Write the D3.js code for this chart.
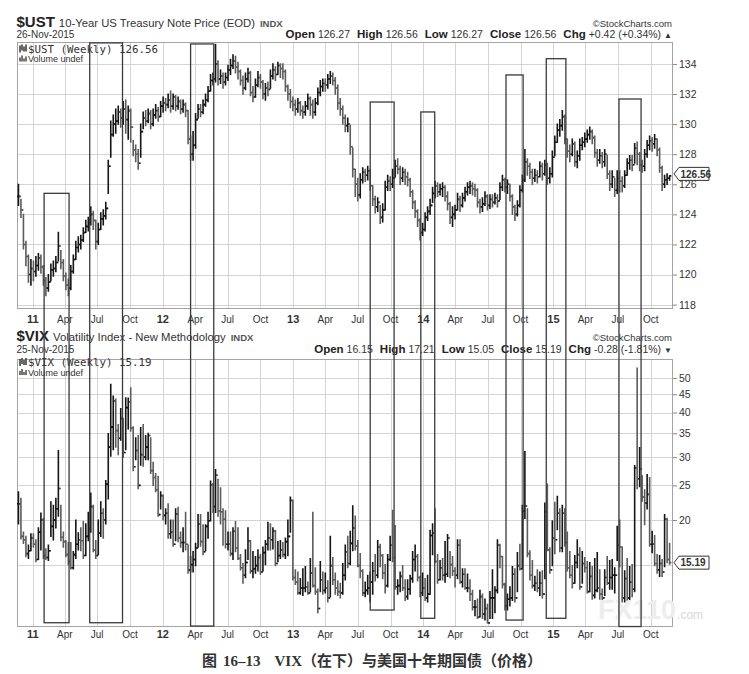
<!DOCTYPE html>
<html><head><meta charset="utf-8">
<script src="https://cdn.jsdelivr.net/npm/d3@7"></script>
<style>
body{margin:0;background:#fff}
svg{display:block}
text{fill:#333}
</style>
</head><body>
<svg id="chart" width="749" height="674" font-family="Liberation Sans, Arial, sans-serif"></svg>
<script>
// ---------- DATA (weekly bars, first week starting 2010-11-22) ----------
const firstWeek = "2010-11-22";

const ustClose = [
125.2,124.3,122.0,121.2,120.0,120.4,120.2,120.6,121.1,120.5,
119.6,119.1,119.5,120.3,120.4,120.8,121.9,120.8,119.9,119.3,
119.1,120.2,121.0,121.8,122.0,122.3,122.8,123.2,123.4,124.0,
123.6,122.2,123.0,123.7,123.9,124.4,127.2,129.3,130.0,130.2,
130.8,130.4,131.0,130.3,130.9,129.8,128.3,128.0,127.4,129.5,
130.4,130.2,130.7,130.0,130.6,130.9,130.5,131.2,131.4,131.3,
131.6,131.2,131.8,131.2,131.5,131.0,131.3,130.9,129.0,128.0,
128.6,130.3,131.0,130.8,131.3,131.6,132.2,132.9,133.0,134.0,
133.0,133.2,132.8,133.1,133.6,133.9,134.2,133.8,133.5,132.9,
132.4,133.0,133.4,132.1,131.8,132.6,133.1,132.8,132.0,132.4,
132.3,133.2,133.6,133.3,133.9,133.7,133.5,132.5,132.0,131.5,
131.3,131.0,131.4,130.9,130.8,131.2,131.7,131.3,130.8,131.4,
132.1,132.5,132.7,132.6,133.0,133.2,132.9,132.4,131.4,131.0,
130.4,129.9,130.0,128.5,127.0,126.0,125.3,126.3,126.8,126.6,
126.9,125.9,125.0,124.5,124.8,123.8,124.3,125.8,126.2,126.0,
126.4,127.2,127.0,126.4,126.8,126.5,126.3,125.5,124.8,124.2,
123.6,122.8,123.0,123.8,124.2,124.6,125.4,125.9,125.5,125.7,
125.8,125.2,124.7,123.8,124.0,124.3,125.0,124.6,125.1,125.5,
125.8,125.9,125.7,125.6,124.8,124.5,124.7,125.2,124.6,125.0,
124.8,125.1,124.9,125.8,126.3,125.8,126.0,125.2,124.5,124.0,
124.6,125.6,126.3,127.5,127.2,126.8,126.4,126.6,126.5,127.2,
126.7,127.3,126.4,126.7,127.8,128.8,129.6,129.9,130.5,129.0,
128.2,128.0,128.7,127.5,127.9,128.6,128.8,129.0,129.3,129.5,
129.1,128.1,127.6,127.9,127.5,128.0,126.7,126.0,126.5,125.6,
126.4,126.2,125.9,126.6,127.4,127.6,127.3,128.4,128.0,127.3,
127.2,128.0,128.6,128.9,128.7,129.0,128.3,127.1,126.0,126.3,
126.4,126.56];

const ustHigh = [
126.0,125.0,124.0,122.2,121.3,121.0,120.9,121.2,121.4,121.3,
120.6,119.8,120.0,120.7,120.9,121.2,122.8,121.6,121.0,120.1,
119.7,120.6,121.3,122.2,122.5,122.6,123.1,123.6,123.8,124.5,
124.2,123.6,123.4,124.1,124.3,124.8,127.6,130.2,130.6,131.0,
131.2,131.0,131.5,131.6,131.2,131.0,128.9,128.6,128.3,130.0,
130.8,130.9,131.0,130.9,131.0,131.3,131.1,131.5,131.8,131.7,
132.0,132.2,132.0,131.9,131.8,131.6,131.6,131.4,130.9,129.2,
129.5,130.7,131.3,131.3,131.6,132.0,132.5,133.3,133.4,135.3,
134.2,133.6,133.4,133.4,133.9,134.3,134.6,134.5,134.1,133.6,
133.2,133.4,133.7,133.5,132.5,133.0,133.5,133.3,132.9,132.7,
132.8,133.6,134.0,133.8,134.1,134.0,134.0,133.6,132.6,132.3,
131.8,131.6,131.7,131.5,131.2,131.5,132.0,131.8,131.6,131.7,
132.4,132.9,133.0,133.0,133.3,133.5,133.4,133.1,132.6,131.7,
131.2,130.6,130.4,129.9,128.4,127.0,126.4,126.7,127.1,127.0,
127.2,127.0,125.9,125.2,125.1,124.6,124.7,126.2,126.6,126.5,
127.0,127.6,127.7,127.2,127.1,127.0,126.8,126.4,125.6,124.9,
124.3,123.7,123.4,124.1,124.5,125.0,125.8,126.2,126.1,126.0,
126.1,125.9,125.5,124.8,124.5,124.6,125.4,125.2,125.4,125.8,
126.1,126.2,126.1,126.0,125.7,125.0,125.1,125.5,125.3,125.3,
125.3,125.4,125.3,126.1,126.6,126.4,126.3,126.0,125.3,124.6,
124.9,125.9,126.6,128.3,127.7,127.4,127.0,127.0,126.9,127.5,
127.4,127.6,127.4,127.1,128.2,129.2,130.0,130.3,130.9,130.6,
129.0,128.6,129.0,128.8,128.2,129.0,129.1,129.4,129.6,129.8,
129.6,129.2,128.3,128.3,128.1,128.3,127.9,126.9,126.9,126.4,
126.9,126.9,126.5,126.9,127.7,127.9,127.9,128.7,128.8,128.1,
127.6,128.3,128.9,129.2,129.1,129.3,129.0,128.4,127.2,126.6,
126.7,126.56];

const ustLow = [
124.6,123.8,121.7,120.6,119.5,119.3,119.6,119.9,120.3,120.1,
119.3,118.6,118.9,119.6,119.9,120.2,120.9,120.4,119.6,119.0,
118.6,119.0,120.1,121.0,121.5,121.7,122.2,122.8,122.9,123.3,
123.0,121.7,122.0,123.0,123.3,123.7,125.4,127.8,129.2,129.4,
130.0,129.8,130.0,129.4,129.0,128.8,127.9,127.5,127.0,127.8,
129.7,129.9,130.1,129.7,129.9,130.4,130.2,130.5,130.8,130.9,
131.1,130.8,131.0,130.9,131.0,130.7,130.8,130.5,128.7,127.6,
127.6,128.4,130.4,130.5,130.7,131.2,131.5,132.2,132.6,132.8,
132.6,132.7,132.4,132.6,132.9,133.3,133.7,133.4,133.0,132.6,
132.0,132.3,132.8,131.9,131.5,131.8,132.5,132.4,131.7,131.6,
131.9,132.4,133.0,132.9,133.3,133.1,133.0,132.2,131.6,131.1,
130.9,130.6,130.8,130.6,130.4,130.6,131.0,130.6,130.4,130.6,
131.3,131.9,132.2,132.2,132.4,132.7,132.6,132.0,131.0,130.6,
130.0,129.5,129.5,128.0,126.5,125.2,124.9,125.1,126.1,126.2,
126.3,125.6,124.6,124.1,124.2,123.4,123.5,124.3,125.6,125.6,
125.8,126.5,126.7,126.0,126.2,126.0,125.9,125.2,124.4,123.8,
123.2,122.3,122.6,122.9,123.6,124.0,124.8,125.1,125.2,125.3,
125.2,124.9,124.3,123.4,123.2,123.7,124.3,124.2,124.5,124.9,
125.3,125.4,125.3,125.2,124.5,124.1,124.2,124.6,124.3,124.4,
124.5,124.7,124.5,125.0,125.6,125.5,125.4,124.9,124.0,123.6,
123.9,124.5,125.5,126.2,126.6,126.4,126.0,126.2,126.1,126.5,
126.3,126.6,126.0,126.1,126.5,127.9,128.8,129.2,129.6,128.7,
127.8,127.5,127.9,127.2,127.1,127.6,128.3,128.5,128.8,129.0,
128.7,127.8,127.2,127.4,127.1,127.2,126.4,125.6,125.8,125.2,
125.4,125.5,125.5,125.8,126.6,127.0,126.9,127.4,127.3,126.9,
126.8,126.9,127.8,128.3,128.2,128.4,127.9,126.8,125.6,125.8,
126.0,126.27];

const vixClose = [
22.2,18.0,17.6,16.1,16.4,17.8,17.1,15.5,18.5,20.0,
15.9,15.7,16.4,19.2,20.0,21.5,24.5,17.9,17.4,16.0,
15.3,14.7,16.0,17.1,17.6,17.5,15.9,18.0,18.9,21.8,
16.5,15.9,18.4,20.9,20.0,25.2,32.0,36.4,43.1,35.6,
33.9,38.5,30.9,41.3,42.9,36.2,28.2,31.3,25.0,30.5,
30.0,32.0,34.5,27.5,26.3,24.3,20.7,23.4,20.6,20.9,
18.3,18.5,17.1,20.8,17.8,17.3,17.3,17.1,14.5,15.0,
15.5,16.7,19.5,17.4,16.3,19.2,19.9,25.1,21.8,26.7,
21.2,21.1,20.1,17.1,17.1,16.1,18.6,16.7,15.6,14.7,
14.0,15.2,17.5,14.4,14.6,14.9,15.7,14.3,16.2,17.1,
17.8,17.6,18.6,15.1,15.9,16.5,16.0,17.4,18.0,22.7,
13.8,13.4,12.5,12.9,12.9,13.0,12.5,14.2,13.1,12.6,
11.3,13.6,12.7,12.9,12.1,14.9,13.6,12.9,12.6,12.5,
14.0,16.3,15.1,17.2,19.0,16.9,14.9,14.4,12.5,12.7,
12.9,13.4,14.4,14.0,16.8,15.9,14.2,13.1,15.5,17.0,
15.7,13.0,13.1,13.9,12.9,12.2,12.8,13.7,15.5,15.8,
13.8,12.5,12.9,12.1,12.4,18.1,18.4,15.3,13.6,14.7,
14.0,14.1,17.8,15.0,14.4,14.0,17.0,13.4,14.1,12.9,
12.9,12.4,11.4,11.4,10.7,12.2,10.9,11.3,10.3,12.1,
12.1,12.7,17.0,15.8,13.2,11.5,12.0,12.1,14.1,12.1,
14.9,14.6,21.2,21.9,16.1,14.0,13.1,13.3,12.9,13.3,
12.4,21.1,16.5,14.5,17.8,17.6,20.9,16.7,20.9,17.3,
14.7,14.0,13.3,15.2,16.0,13.0,15.1,14.7,12.6,13.9,
12.3,12.7,12.9,12.4,12.1,13.8,13.3,13.8,14.0,14.0,
17.0,16.8,12.1,13.7,12.1,13.4,12.8,28.0,26.1,27.8,
23.2,22.3,23.6,17.1,17.1,15.1,14.5,15.1,14.3,20.1,
15.5,15.19];

const vixHigh = [
24.0,23.0,18.5,18.0,17.0,18.3,18.3,17.6,19.0,20.9,
20.2,16.6,17.0,22.5,22.0,23.0,31.3,22.0,18.5,17.5,
17.3,17.3,16.3,20.0,18.4,19.0,19.8,19.5,21.0,23.8,
22.0,17.5,20.0,22.5,21.5,25.8,34.9,48.0,44.5,43.6,
37.0,41.0,38.5,44.0,43.9,46.9,36.5,34.0,34.5,36.3,
37.0,34.5,35.0,34.0,29.0,27.0,26.5,24.0,23.5,21.5,
22.2,20.0,20.0,21.5,21.7,18.5,19.0,21.0,17.0,15.8,
16.3,17.2,20.7,20.7,19.4,19.4,21.0,25.7,25.3,27.7,
26.0,24.6,21.5,21.2,18.5,18.5,19.0,19.8,19.0,16.0,
15.1,16.5,19.0,17.5,16.3,15.8,16.5,16.0,16.8,17.5,
19.7,19.5,19.0,18.7,17.4,17.5,17.3,17.8,20.0,23.2,
22.7,14.5,14.3,13.7,14.6,14.8,13.4,15.6,21.0,14.7,
12.8,15.3,14.3,14.2,13.5,18.0,15.7,14.2,13.5,13.3,
15.1,17.0,18.0,18.6,21.9,20.5,17.5,16.1,14.5,13.4,
14.0,14.3,15.2,16.0,17.5,17.1,16.0,15.0,16.0,18.0,
21.3,19.3,13.6,14.3,14.9,13.6,13.6,14.0,16.3,17.0,
16.0,13.9,14.2,13.7,14.0,18.7,19.5,21.5,16.0,15.4,
15.6,17.4,18.2,16.3,15.8,14.7,17.6,17.6,14.6,14.6,
14.1,13.6,12.7,11.9,12.0,12.7,12.4,12.0,11.6,12.6,
14.5,13.0,17.6,17.1,15.8,13.3,12.4,13.0,14.8,14.6,
16.2,17.1,22.0,31.1,21.5,16.4,15.4,13.9,14.5,14.3,
14.4,22.3,25.2,16.7,19.9,22.4,23.3,21.5,22.0,21.5,
18.5,16.3,14.9,15.9,17.6,16.7,16.3,15.7,15.3,15.2,
14.8,15.6,16.2,14.5,12.8,14.5,15.8,15.4,15.5,14.7,
19.2,20.0,16.8,14.4,15.6,14.8,15.0,28.4,53.3,31.9,
26.6,24.3,26.8,26.3,18.6,18.1,16.0,15.9,15.5,20.7,
20.2,17.21];

const vixLow = [
19.5,17.7,17.2,15.8,15.6,16.4,16.8,15.3,15.5,16.5,
15.6,15.5,15.4,18.0,17.6,19.0,20.5,17.5,16.8,15.8,
15.0,14.6,14.6,15.6,16.5,16.4,15.6,15.9,17.5,18.5,
16.3,15.6,16.0,18.0,17.8,19.5,22.9,30.2,31.5,32.0,
30.5,33.5,30.0,31.5,36.0,35.5,27.5,29.5,24.5,28.5,
28.3,29.5,29.5,27.0,25.0,24.0,20.5,21.5,20.0,19.5,
17.8,17.8,16.9,17.5,17.4,16.8,16.3,16.5,14.2,14.3,
14.3,14.9,16.8,16.9,16.0,16.4,17.8,19.9,21.0,21.0,
20.5,19.5,17.0,16.7,16.5,15.9,15.5,16.3,15.5,14.5,
13.3,13.8,15.5,14.2,13.8,14.2,14.4,14.1,14.4,15.0,
16.5,16.5,16.6,14.9,15.3,15.6,15.8,15.6,15.9,18.5,
13.6,13.2,12.4,12.4,12.3,12.6,12.4,12.6,13.0,12.4,
11.0,12.6,12.4,12.5,11.8,12.2,13.2,12.4,12.3,12.1,
12.4,13.6,14.7,15.0,16.4,16.5,14.8,13.8,12.3,12.2,
12.4,11.8,12.4,13.5,13.8,14.8,13.7,12.5,13.0,15.4,
15.3,12.8,12.4,12.6,12.7,11.9,12.0,12.4,13.4,14.4,
13.5,12.2,12.3,11.9,11.8,12.4,16.0,15.2,13.3,13.6,
13.6,13.4,13.9,13.8,14.0,13.0,13.7,13.3,13.0,12.8,
12.6,11.9,11.2,10.8,10.6,10.7,10.6,10.5,10.3,10.6,
10.6,11.0,12.5,14.7,12.9,11.2,11.2,11.5,11.9,11.8,
12.6,14.5,14.6,20.2,15.8,13.6,12.9,12.7,12.6,12.3,
12.1,13.7,16.4,14.2,14.9,16.1,18.8,16.3,16.3,16.9,
14.4,13.8,12.9,13.3,14.7,12.8,13.3,14.3,12.5,12.6,
12.0,12.1,12.6,12.0,11.8,12.3,13.2,12.8,12.8,12.5,
15.4,14.8,11.8,11.8,11.9,11.9,12.2,12.6,24.5,24.8,
22.6,19.4,21.5,16.9,16.2,14.9,14.2,13.9,13.9,14.8,
15.2,15.05];

// tick values
const ustTicks = [118,120,122,124,126,128,130,132,134];
const vixTicks = [20,25,30,35,40,45,50];
const vixGrid = [15,20,25,30,35,40,45,50];
const monthNames = ["Jan","Feb","Mar","Apr","May","Jun","Jul","Aug","Sep","Oct","Nov","Dec"];

// annotation boxes drawn across both panels (start date, end date, top in UST price, bottom in VIX)
const boxStart = ["2011-02-02","2011-06-10","2012-03-19","2013-08-05","2013-12-25","2014-08-21","2014-12-12","2015-07-04"];
const boxEnd   = ["2011-04-13","2011-09-10","2012-05-23","2013-10-11","2014-02-02","2014-10-08","2015-02-05","2015-09-04"];
const boxTopUst = [125.40,135.40,135.33,131.47,130.81,133.27,134.35,131.67];
const boxBottomVix = [10.31,10.31,10.09,11.19,10.61,10.49,10.61,10.06];

// header texts
const ustHeader = {sym:"$UST", name:"10-Year US Treasury Note Price (EOD)", date:"26-Nov-2015",
  open:"126.27", high:"126.56", low:"126.27", close:"126.56", chg:"+0.42 (+0.34%)", arrow:"\u25B2", last:"126.56"};
const vixHeader = {sym:"$VIX", name:"Volatility Index - New Methodology", date:"25-Nov-2015",
  open:"16.15", high:"17.21", low:"15.05", close:"15.19", chg:"-0.28 (-1.81%)", arrow:"\u25BC", last:"15.19"};
const captionParts = [["图", "cjk"], ["16–13", "serif"], ["VIX", "serif"], ["（在下）与美国十年期国债（价格）", "cjk"]];

// ---------- LAYOUT ----------
const SANS = "Liberation Sans, Arial, sans-serif";
const svg = d3.select("#chart");
const L = 17, R = 673;
const topP = {t:42, b:309};
const botP = {t:359, b:627};

const parse = d3.timeParse("%Y-%m-%d");
const w0 = parse(firstWeek);
const weeks = ustClose.map((_, i) => d3.timeDay.offset(w0, 7 * i));

const x = d3.scaleTime().domain([new Date(2011,0,1), new Date(2015,9,1)]).range([32.7, 650.7]);
const yU = d3.scaleLinear().domain([117.71, 135.46]).range([topP.b, topP.t]);
const yV = d3.scaleLog().domain([10.03, 56.5]).range([botP.b, botP.t]);

const quarters = d3.timeMonth.every(3).range(new Date(2011,0,1), new Date(2015,11,1));

const defs = svg.append("defs");
[["clipTop", topP], ["clipBot", botP]].forEach(([id, p]) => {
  defs.append("clipPath").attr("id", id).append("rect")
    .attr("x", L).attr("y", p.t).attr("width", R - L).attr("height", p.b - p.t);
});

function panel(p, y, ticks, gridVals) {
  const g = svg.append("g");
  g.selectAll("line.hg").data(gridVals).join("line")
    .attr("x1", L).attr("x2", R)
    .attr("y1", d => Math.round(y(d)) + 0.5).attr("y2", d => Math.round(y(d)) + 0.5)
    .attr("stroke", "#d4d4d4").attr("stroke-width", 1);
  g.selectAll("line.vg").data(quarters).join("line")
    .attr("x1", d => Math.round(x(d)) + 0.5).attr("x2", d => Math.round(x(d)) + 0.5)
    .attr("y1", p.t).attr("y2", p.b)
    .attr("stroke", "#d4d4d4").attr("stroke-width", 1);
  g.append("rect").attr("x", L + 0.5).attr("y", p.t + 0.5)
    .attr("width", R - L - 1).attr("height", p.b - p.t - 1)
    .attr("fill", "none").attr("stroke", "#a4a4a4");
  const ax = d3.axisRight(y).tickValues(ticks).tickSize(4).tickPadding(2)
    .tickFormat(d3.format("d"));
  const ag = svg.append("g").attr("transform", `translate(${R},0)`).call(ax);
  ag.select(".domain").remove();
  ag.selectAll(".tick line").attr("stroke", "#888");
  ag.selectAll(".tick text").attr("font-size", 10.5).attr("fill", "#444").style("font-family", SANS);
}
panel(topP, yU, ustTicks, ustTicks);
panel(botP, yV, vixTicks, vixGrid);

function bars(clipId, closes, highs, lows, y) {
  const rows = closes.map((c, i) => ({d: weeks[i], c, h: highs[i], l: lows[i],
    prev: i === 0 ? c : closes[i - 1], up: i === 0 || c >= closes[i - 1]}));
  svg.append("g").attr("clip-path", `url(#${clipId})`)
    .selectAll("path").data(rows).join("path")
    .attr("d", r => {
      const xx = x(r.d);
      return `M${xx},${y(r.h) - 0.6}V${y(r.l) + 0.6}M${xx - 1.6},${y(r.prev)}H${xx}M${xx},${y(r.c)}H${xx + 1.8}`;
    })
    .attr("stroke", r => r.up ? "#161616" : "#5c5c5c")
    .attr("stroke-width", 1.6).attr("fill", "none");
}
bars("clipTop", ustClose, ustHigh, ustLow, yU);
bars("clipBot", vixClose, vixHigh, vixLow, yV);

// watermark (faint), kept above the axis labels
const wm = svg.append("text").attr("x", 598).attr("y", 619);
wm.append("tspan").attr("font-size", 27).attr("font-weight", "bold").attr("fill", "#ededed").text("FX110");
wm.append("tspan").attr("font-size", 12).attr("fill", "#d8d8d8").attr("dx", 1).text(".com");

// x-axis labels
function xLabels(yPos) {
  svg.append("g").selectAll("text").data(quarters).join("text")
    .attr("x", d => x(d)).attr("y", yPos).attr("text-anchor", "middle")
    .attr("font-size", d => d.getMonth() === 0 ? 11 : 10)
    .attr("font-weight", d => d.getMonth() === 0 ? "bold" : "normal")
    .attr("fill", "#333")
    .text(d => d.getMonth() === 0 ? d3.timeFormat("%y")(d) : monthNames[d.getMonth()]);
}
xLabels(323);
xLabels(637.5);

// headers
function header(h, yTitle, yDate, yLegend) {
  const t = svg.append("text").attr("x", L - 0.5).attr("y", yTitle);
  t.append("tspan").attr("font-weight", "bold").attr("font-size", 15).attr("fill", "#222").text(h.sym);
  t.append("tspan").attr("dx", 4).attr("font-size", 11.3).text(h.name);
  t.append("tspan").attr("dx", 5).attr("font-size", 9.5).attr("font-weight", "bold").attr("fill", "#555").text("INDX");
  svg.append("text").attr("x", L - 0.5).attr("y", yDate).attr("font-size", 10).text(h.date);
  svg.append("text").attr("x", R - 1).attr("y", yTitle).attr("text-anchor", "end")
    .attr("font-size", 9.5).attr("fill", "#666").text("\u00A9StockCharts.com");
  const o = svg.append("text").attr("x", R - 1).attr("y", yDate + 0.5).attr("text-anchor", "end");
  const pairs = [["Open", h.open], ["High", h.high], ["Low", h.low], ["Close", h.close], ["Chg", h.chg]];
  pairs.forEach(([k, v], i) => {
    o.append("tspan").attr("font-weight", "bold").attr("font-size", 11.5).attr("fill", "#222").attr("dx", i ? 7 : 0).text(k);
    o.append("tspan").attr("font-size", 10.5).attr("dx", 3).text(v);
  });
  o.append("tspan").attr("font-size", 8).attr("dx", 3).text(h.arrow);
  const lg = svg.append("g");
  lg.append("text").attr("x", L + 11).attr("y", yLegend)
    .style("font-family", "DejaVu Sans Mono, monospace")
    .attr("font-size", 10.8).attr("fill", "#333").text(`${h.sym} (Weekly) ${h.last}`);
  lg.append("path").attr("d", `M${L+3},${yLegend-7}v7M${L+5},${yLegend-8}v6M${L+7},${yLegend-6}v5M${L+9},${yLegend-8}v7`)
    .attr("stroke", "#444").attr("stroke-width", 1.6);
  lg.append("path").attr("d", `M${L+3},${yLegend+9}v-4M${L+5},${yLegend+9}v-6M${L+7},${yLegend+9}v-3M${L+9},${yLegend+9}v-5`)
    .attr("stroke", "#555").attr("stroke-width", 1.6);
  lg.append("text").attr("x", L + 11).attr("y", yLegend + 9.5).attr("font-size", 9).attr("fill", "#444").text("Volume undef");
}
header(ustHeader, 26.5, 37.5, 52.5);
header(vixHeader, 341, 352.5, 366);

// last value tags
function tag(yv, label) {
  const g = svg.append("g");
  g.append("path").attr("d", `M${R + 1},${yv}L${R + 6},${yv - 6.5}H${R + 36}V${yv + 6.5}H${R + 6}Z`)
    .attr("fill", "#fff").attr("stroke", "#333").attr("stroke-width", 1);
  g.append("text").attr("x", R + 7.5).attr("y", yv + 3.8).attr("font-size", 10).attr("font-weight", "bold")
    .attr("fill", "#222").text(label);
}
tag(yU(ustClose[ustClose.length - 1]) - 2, ustHeader.last);
tag(yV(vixClose[vixClose.length - 1]), vixHeader.last);

// annotation boxes
svg.append("g").selectAll("rect").data(boxStart).join("rect")
  .attr("x", (d, i) => x(parse(d)))
  .attr("y", (d, i) => yU(boxTopUst[i]))
  .attr("width", (d, i) => x(parse(boxEnd[i])) - x(parse(d)))
  .attr("height", (d, i) => yV(boxBottomVix[i]) - yU(boxTopUst[i]))
  .attr("fill", "none").attr("stroke", "#3a3a3a").attr("stroke-width", 1.3);

// caption
const cap = svg.append("text").attr("x", 372).attr("y", 666).attr("text-anchor", "middle")
  .attr("font-weight", "bold").attr("font-size", 15).attr("fill", "#222");
captionParts.forEach(([s, f], i) => {
  cap.append("tspan")
    .style("font-family", f === "cjk" ? "Noto Sans CJK SC, sans-serif" : "Liberation Serif, serif")
    .attr("dx", i === 0 ? 0 : (i === 1 ? 6 : (i === 2 ? 14 : 0)))
    .text(s);
});
</script>
</body></html>
